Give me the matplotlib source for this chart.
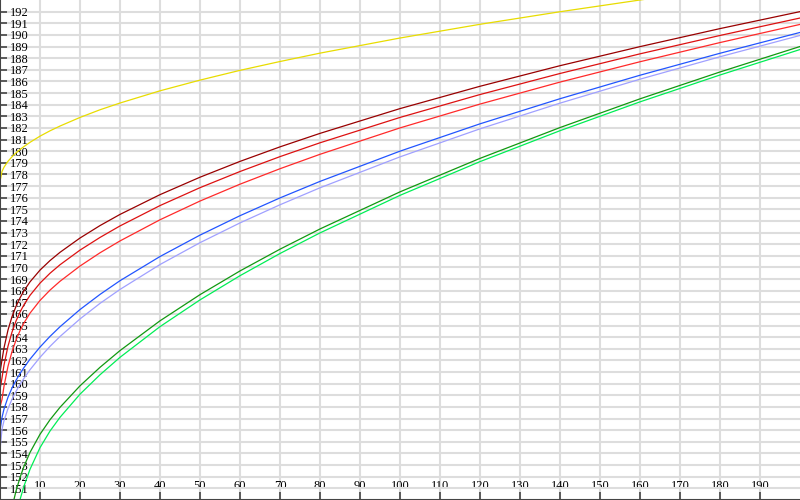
import matplotlib
matplotlib.use('Agg')
import matplotlib.pyplot as plt

ages = [0, 0.5, 1, 2, 3, 4, 5, 6, 7.5, 10, 12.5, 15, 20, 25, 30, 40, 50, 60, 70, 80,
        100, 120, 140, 160, 180, 200]

yellow = [177.38, 178.25, 178.62, 179.13, 179.52, 179.85, 180.14, 180.40, 180.76, 181.29,
          181.75, 182.16, 182.90, 183.56, 184.14, 185.19, 186.11, 186.95, 187.71, 188.43,
          189.73, 190.91, 191.99, 193.00, 193.95, 194.85]
darkred = [161.0, 162.05, 163.08, 164.62, 165.76, 166.65, 167.38, 168.00, 168.76, 169.77,
           170.59, 171.30, 172.53, 173.60, 174.56, 176.26, 177.76, 179.12, 180.37, 181.53,
           183.66, 185.58, 187.35, 188.99, 190.54, 192.00]
red1 = [159.5, 160.50, 161.60, 163.23, 164.44, 165.39, 166.16, 166.80, 167.60, 168.65,
        169.50, 170.23, 171.49, 172.58, 173.57, 175.32, 176.86, 178.25, 179.53, 180.72,
        182.90, 184.87, 186.68, 188.37, 189.95, 191.45]
red2 = [158.0, 158.65, 159.79, 161.50, 162.76, 163.75, 164.56, 165.23, 166.07, 167.16,
        168.05, 168.81, 170.12, 171.26, 172.28, 174.10, 175.71, 177.16, 178.49, 179.73,
        182.00, 184.05, 185.94, 187.69, 189.34, 190.90]
blue = [156.0, 157.10, 157.82, 158.84, 159.63, 160.29, 160.87, 161.39, 162.11, 163.15,
        164.07, 164.90, 166.38, 167.68, 168.86, 170.94, 172.78, 174.45, 175.98, 177.40,
        180.00, 182.35, 184.51, 186.53, 188.42, 190.21]
lavender = [154.30, 156.08, 156.82, 157.86, 158.67, 159.34, 159.94, 160.47, 161.20, 162.27,
            163.21, 164.06, 165.57, 166.91, 168.11, 170.25, 172.13, 173.83, 175.39, 176.85,
            179.51, 181.92, 184.13, 186.19, 188.12, 189.95]
green = [140.32, 143.38, 145.04, 147.51, 149.34, 150.77, 151.93, 152.90, 154.09, 155.65,
         156.90, 157.97, 159.82, 161.41, 162.85, 165.41, 167.66, 169.70, 171.57, 173.31,
         176.50, 179.38, 182.03, 184.50, 186.81, 189.00]
lightgreen = [137.32, 140.48, 142.24, 145.01, 147.04, 148.67, 150.03, 151.20, 152.64, 154.50,
              155.93, 157.11, 159.10, 160.77, 162.27, 164.91, 167.21, 169.29, 171.20, 172.97,
              176.20, 179.10, 181.76, 184.24, 186.55, 188.74]

xticks = list(range(10, 200, 10))
yticks = list(range(151, 193))

series = [
    (yellow, '#e8dc00'),
    (darkred, '#990000'),
    (red1, '#dd1111'),
    (red2, '#ff2a2a'),
    (blue, '#2255ff'),
    (lavender, '#a0a0ff'),
    (green, '#119911'),
    (lightgreen, '#00ee55'),
]

plt.rcParams['font.family'] = ['Liberation Serif', 'DejaVu Serif']

fig = plt.figure(figsize=(8, 5), dpi=100)
ax = fig.add_axes([0, 0, 1, 1])

for vals, col in series:
    ax.plot(ages, vals, color=col, lw=0.9)

ax.set_xlim(0, 200)
ax.set_ylim(150, 193)
ax.set_xticks(xticks)
ax.set_yticks(yticks)
ax.set_xticklabels([str(t) for t in xticks])
ax.set_yticklabels([str(t) for t in yticks])

ax.set_axisbelow(True)
ax.grid(True, color='#dddddd', lw=1.5)

for s in ['top', 'right']:
    ax.spines[s].set_visible(False)
for s in ['left', 'bottom']:
    ax.spines[s].set_color('#444444')
    ax.spines[s].set_linewidth(1.5)

ax.tick_params(axis='x', direction='in', length=6, width=1.2, color='#444444',
               pad=-5.5, labelsize=9)
ax.tick_params(axis='y', direction='in', length=5, width=1.2, color='#444444',
               pad=-7.5, labelsize=9)
plt.setp(ax.get_xticklabels(), va='bottom')
plt.setp(ax.get_yticklabels(), ha='left')

fig.savefig('out.png', dpi=100)
